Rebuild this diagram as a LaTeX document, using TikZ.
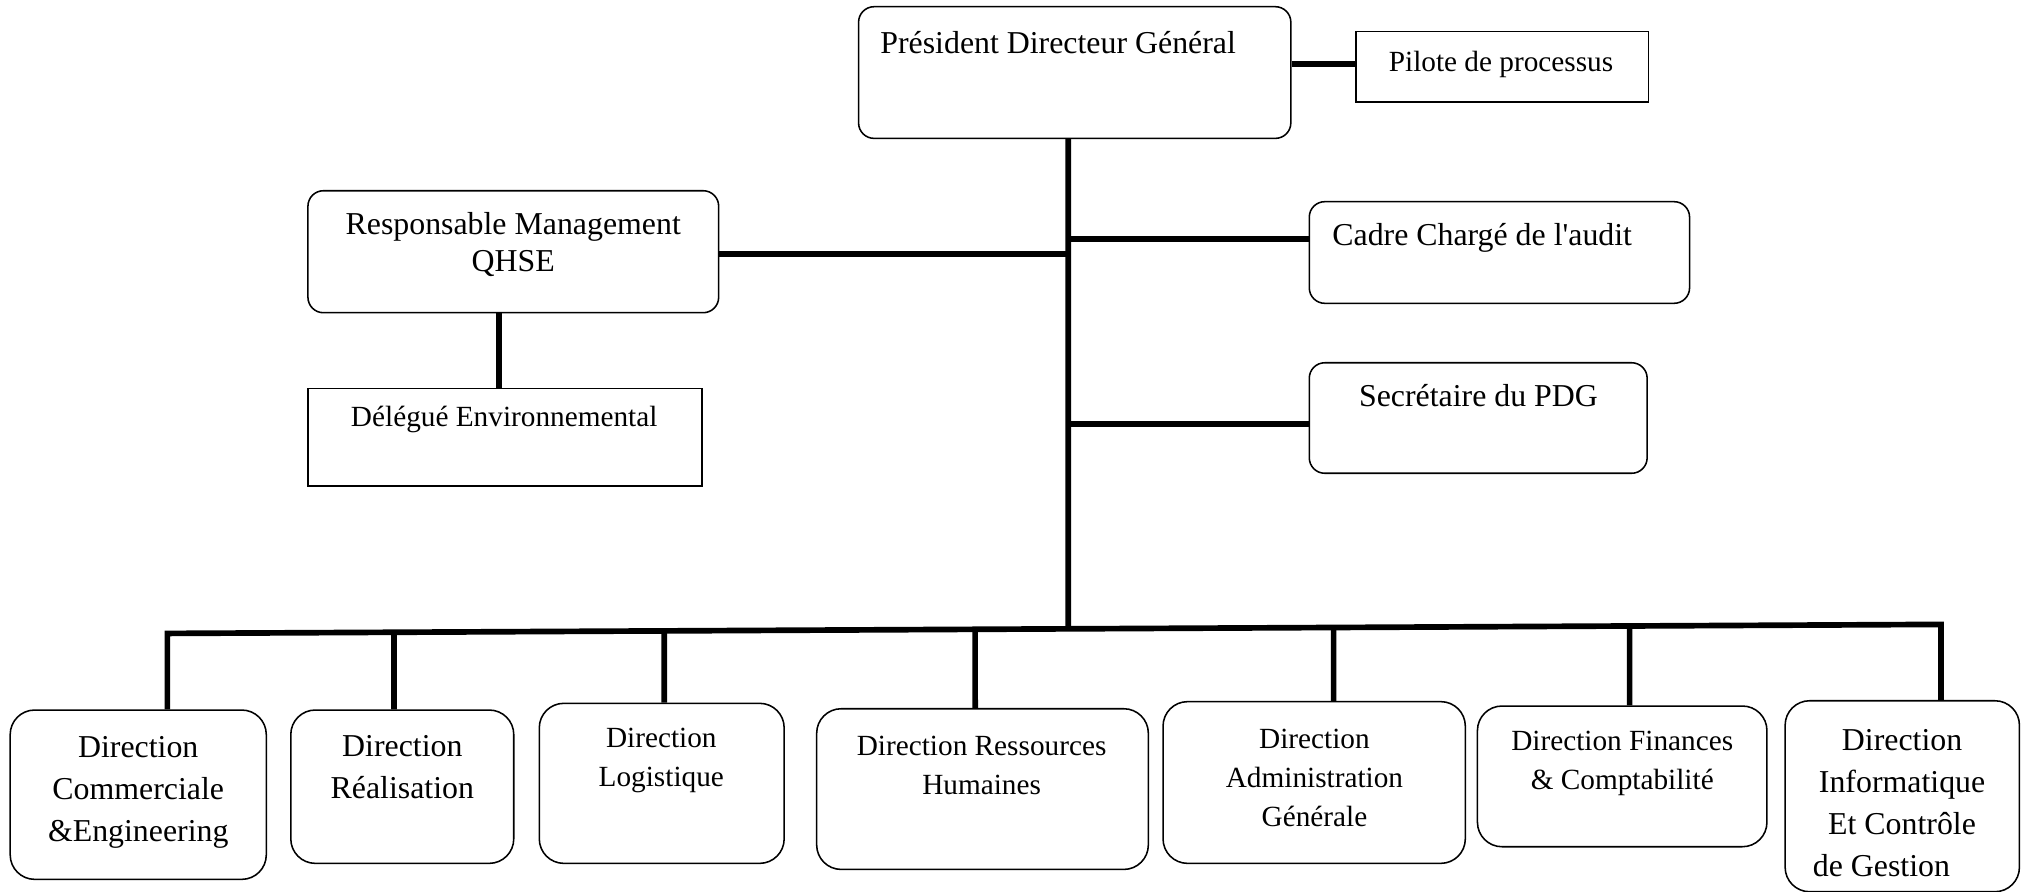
\documentclass[tikz,border=0pt]{standalone}
\usepackage{fontspec}
\setmainfont{Liberation Serif}
\newfontfamily\quotefont{Liberation Serif}
\usetikzlibrary{calc}
\newcommand\bigtext{\fontsize{24.7}{32.7}\selectfont}
\newcommand\smalltext{\fontsize{22.7}{30.5}\selectfont}
% centred lines; the box baseline is that of the first line
\newcommand\linesat[2]{\vtop{\baselineskip=#1pt\relax\halign{\hfil##\hfil\cr#2\crcr}}}

\begin{document}
\begin{tikzpicture}[x=1pt,y=-1pt,
  rbox/.style={draw, line width=1.2pt, rounded corners=12pt, inner sep=0pt},
  sbox/.style={draw, line width=1.2pt, inner sep=0pt},
  dbox/.style={draw, line width=1.2pt, rounded corners=19pt, inner sep=0pt},
  link/.style={line width=4.4pt, line join=miter},
  big/.style={font=\bigtext, inner sep=0pt},
  small/.style={font=\smalltext, inner sep=0pt}]

\useasboundingbox (0,0) rectangle (1568,691);
\clip (0,0) rectangle (1568,691);

% --- boxes ---
\node[rbox, minimum width=335.2pt, minimum height=102.1pt] (pdg)    at (833.4,56.25)  {};
\node[sbox, minimum width=226.6pt, minimum height=54.3pt]  (pilote) at (1165,51.75)   {};
\node[rbox, minimum width=318.5pt, minimum height=94.6pt]  (resp)   at (398.05,195.2) {};
\node[sbox, minimum width=305.4pt, minimum height=75.5pt]  (deleg)  at (391.5,338.95) {};
\node[rbox, minimum width=294.9pt, minimum height=78.8pt]  (cadre)  at (1162.75,195.8) {};
\node[rbox, minimum width=262pt,   minimum height=85.7pt]  (secr)   at (1146.3,324.15) {};

\node[dbox, minimum width=198.6pt, minimum height=131.3pt] (d1) at (107.2,616.25)  {};
\node[dbox, minimum width=172.9pt, minimum height=118.9pt] (d2) at (311.95,610.05) {};
\node[dbox, minimum width=189.9pt, minimum height=124.1pt] (d3) at (513.15,607.45) {};
\node[dbox, minimum width=257.2pt, minimum height=124.6pt] (d4) at (761.9,611.9)   {};
\node[dbox, minimum width=234.4pt, minimum height=125.4pt] (d5) at (1019.1,606.8)  {};
\node[dbox, minimum width=224.5pt, minimum height=109.1pt] (d6) at (1257.95,602.05) {};
\node[dbox, minimum width=181.7pt, minimum height=148.1pt] (d7) at (1475.15,617.45) {};

% --- texts ---
\node[big, anchor=base west] (pdgT)    at (682.5,41.4)  {Président Directeur Général};
\node[small, anchor=base]    (piloteT) at (1164,55.6)   {Pilote de processus};
\node[big, anchor=base]      (respT)   at (398,182.2)   {\linesat{28.5}{Responsable Management\cr QHSE}};
\node[small, anchor=base]    (delegT)  at (391,330.9)   {Délégué Environnemental};
\node[big, anchor=base west] (cadreT)  at (1033,190)    {Cadre Chargé de l{\quotefont'}audit};
\node[big, anchor=base]      (secrT)   at (1146.5,315.4) {Secrétaire du PDG};

\node[big, anchor=base]   (d1T) at (107.2,587.3)  {\linesat{32.6}{Direction\cr Commerciale\cr \&Engineering}};
\node[big, anchor=base]   (d2T) at (312,586.8)    {\linesat{32.3}{Direction\cr Réalisation}};
\node[small, anchor=base] (d3T) at (512.8,579.8)  {\linesat{29.8}{Direction\cr Logistique}};
\node[small, anchor=base] (d4T) at (761.2,585.5)  {\linesat{30.5}{Direction Ressources\cr Humaines}};
\node[small, anchor=base] (d5T) at (1019.3,580.3) {\linesat{30.2}{Direction\cr Administration\cr Générale}};
\node[small, anchor=base] (d6T) at (1258,581.6)   {\linesat{30.5}{Direction Finances\cr \& Comptabilité}};
% the text frame of this box cuts its last line
\begin{scope}
  \clip (1380,530) rectangle (1570,679.3);
  \node[big, anchor=base] (d7T) at (1475,582.0) {\linesat{32.6}{Direction\cr Informatique\cr Et Contrôle\cr de Gestion\kern32pt}};
\end{scope}

% --- connectors ---
\coordinate (pilC) at ([yshift=6.65pt]pdg.east);
\draw[link] (pilC) -- (pilC -| pilote.west);

\coordinate (trunkTop) at ([xshift=-5pt]pdg.south);
\coordinate (trunkAux) at ([yshift=-100pt]trunkTop);
\coordinate (busL) at (129.8,491.2);
\coordinate (busR) at (1505.2,484.2);
\draw[link] (trunkTop) -- (intersection of busL--busR and trunkTop--trunkAux);

\coordinate (respC) at ([yshift=-1.8pt]resp.east);
\draw[link] (respC) -- (respC -| trunkTop);
\coordinate (cadreC) at ([yshift=10.5pt]cadre.west);
\draw[link] (cadreC -| trunkTop) -- (cadreC);
\coordinate (secrC) at ([yshift=-4.85pt]secr.west);
\draw[link] (secrC -| trunkTop) -- (secrC);

\coordinate (delC) at ([xshift=-10.95pt]resp.south);
\draw[link] (delC) -- (delC |- deleg.north);

% bus with the two outer drops
\draw[link] (busL |- d1.north) -- (busL) -- (busR) -- (busR |- d7.north);

% inner drops
\coordinate (t2) at ([xshift=-6.45pt]d2.north);  \coordinate (u2) at ([yshift=10pt]t2);
\coordinate (t3) at ([xshift=2pt]d3.north);      \coordinate (u3) at ([yshift=10pt]t3);
\coordinate (t4) at ([xshift=-5.7pt]d4.north);   \coordinate (u4) at ([yshift=10pt]t4);
\coordinate (t5) at ([xshift=15.1pt]d5.north);   \coordinate (u5) at ([yshift=10pt]t5);
\coordinate (t6) at ([xshift=5.75pt]d6.north);   \coordinate (u6) at ([yshift=10pt]t6);
\draw[link] (t2) -- (intersection of busL--busR and t2--u2);
\draw[link] (t3) -- (intersection of busL--busR and t3--u3);
\draw[link] (t4) -- (intersection of busL--busR and t4--u4);
\draw[link] (t5) -- (intersection of busL--busR and t5--u5);
\draw[link] (t6) -- (intersection of busL--busR and t6--u6);

\end{tikzpicture}
\end{document}
